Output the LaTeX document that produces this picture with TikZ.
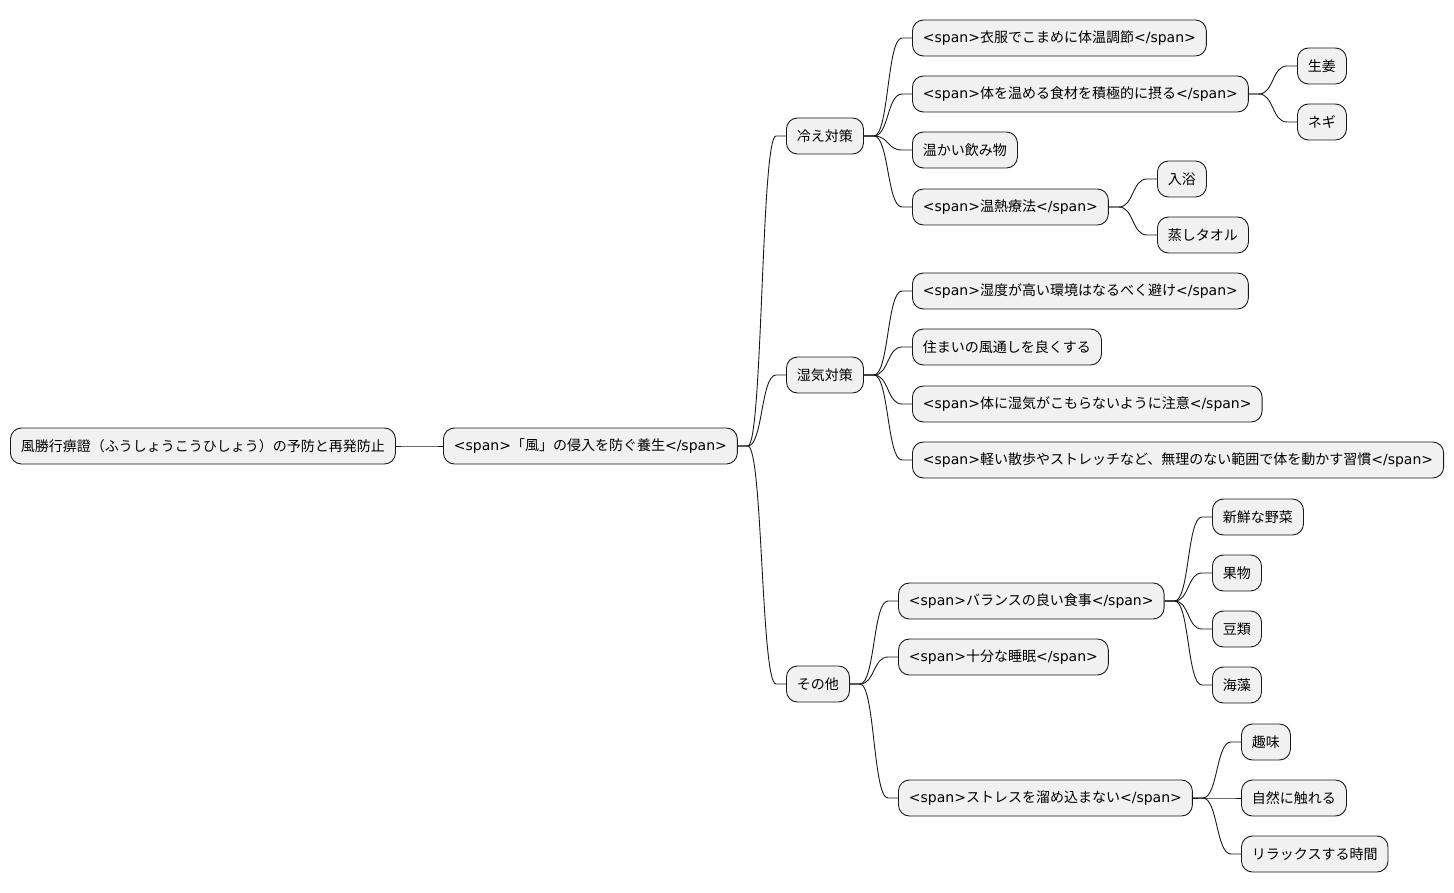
\documentclass[tikz,border=0pt]{standalone}
\usepackage{fontspec}
\setmainfont{Noto Sans CJK JP}
\newfontfamily\dvfont{DejaVu Sans}
\newcommand\spo{{\dvfont <span>}}
\newcommand\spc{{\dvfont </span>}}
\begin{document}
\begin{tikzpicture}[x=1pt,y=-1pt,
  mm/.style={draw=black!90,fill=black!5.5,line width=0.9pt,rounded corners=11pt,
    minimum height=36pt,inner xsep=10.5pt,inner ysep=0pt,anchor=west,
    font=\fontsize{14pt}{16pt}\selectfont},
  conn/.style={draw=black!90,line width=0.9pt}]
\useasboundingbox (0,0) rectangle (1454,893);
\newcommand\link[2]{\draw[conn] (#1.east) -- ++(10,0) .. controls +(15,0) and +(-15,0) .. ([xshift=-10pt]#2.west) -- (#2.west);}
% root
\node[mm] (root) at (10,446) {風勝行痹證（ふうしょうこうひしょう）の予防と再発防止};
\node[mm] (l1) at (443,446) {\spo「風」の侵入を防ぐ養生\spc};
% level 2
\node[mm] (hie) at (786,136) {冷え対策};
\node[mm] (shikke) at (786,375) {湿気対策};
\node[mm] (sonota) at (786,684) {その他};
% hie children
\node[mm] (h1) at (912,38) {\spo 衣服でこまめに体温調節\spc};
\node[mm] (h2) at (912,94) {\spo 体を温める食材を積極的に摂る\spc};
\node[mm] (h3) at (912,150) {温かい飲み物};
\node[mm] (h4) at (912,207) {\spo 温熱療法\spc};
\node[mm] (h21) at (1297,66) {生姜};
\node[mm] (h22) at (1297,122) {ネギ};
\node[mm] (h41) at (1157,179) {入浴};
\node[mm] (h42) at (1157,235) {蒸しタオル};
% shikke children
\node[mm] (s1) at (912,291) {\spo 湿度が高い環境はなるべく避け\spc};
\node[mm] (s2) at (912,347) {住まいの風通しを良くする};
\node[mm] (s3) at (912,404) {\spo 体に湿気がこもらないように注意\spc};
\node[mm] (s4) at (912,460) {\spo 軽い散歩やストレッチなど、無理のない範囲で体を動かす習慣\spc};
% sonota children
\node[mm] (o1) at (898,601) {\spo バランスの良い食事\spc};
\node[mm] (o2) at (898,657) {\spo 十分な睡眠\spc};
\node[mm] (o3) at (898,798) {\spo ストレスを溜め込まない\spc};
\node[mm] (o11) at (1212,517) {新鮮な野菜};
\node[mm] (o12) at (1212,573) {果物};
\node[mm] (o13) at (1212,629) {豆類};
\node[mm] (o14) at (1212,685) {海藻};
\node[mm] (o31) at (1241,742) {趣味};
\node[mm] (o32) at (1241,798) {自然に触れる};
\node[mm] (o33) at (1241,854) {リラックスする時間};
% connectors
\link{root}{l1}
\link{l1}{hie}\link{l1}{shikke}\link{l1}{sonota}
\link{hie}{h1}\link{hie}{h2}\link{hie}{h3}\link{hie}{h4}
\link{h2}{h21}\link{h2}{h22}
\link{h4}{h41}\link{h4}{h42}
\link{shikke}{s1}\link{shikke}{s2}\link{shikke}{s3}\link{shikke}{s4}
\link{sonota}{o1}\link{sonota}{o2}\link{sonota}{o3}
\link{o1}{o11}\link{o1}{o12}\link{o1}{o13}\link{o1}{o14}
\link{o3}{o31}\link{o3}{o32}\link{o3}{o33}
\end{tikzpicture}
\end{document}
